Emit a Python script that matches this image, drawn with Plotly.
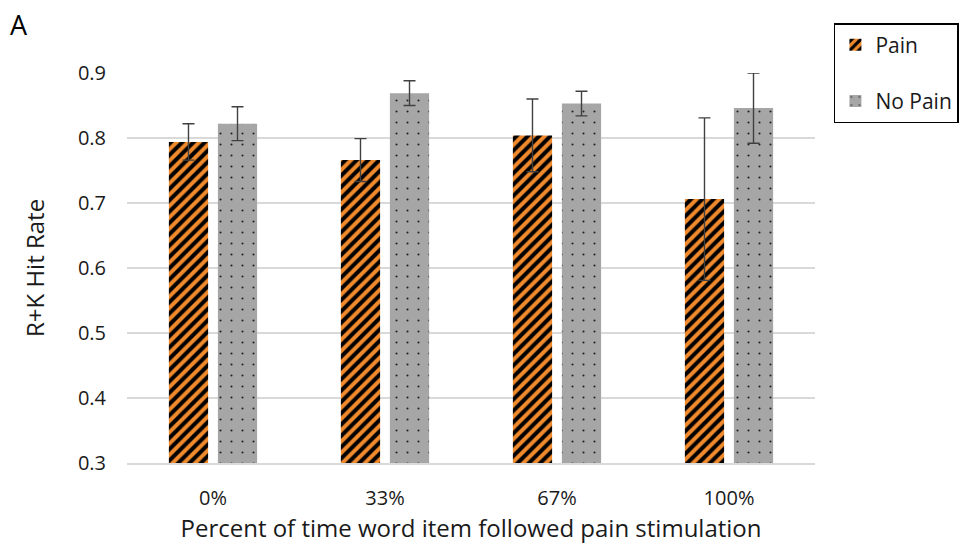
import plotly.graph_objects as go

categories = ["0%", "33%", "67%", "100%"]
pain = [0.794, 0.766, 0.804, 0.706]
pain_err = [0.028, 0.033, 0.056, 0.125]
no_pain = [0.822, 0.869, 0.853, 0.846]
no_pain_err = [0.026, 0.019, 0.019, 0.054]
y_ticks = [0.3, 0.4, 0.5, 0.6, 0.7, 0.8, 0.9]

FONT = "'Open Sans', sans-serif"
ERR = dict(type="data", visible=True, color="#404040", thickness=1.4, width=6)

fig = go.Figure()
fig.add_trace(go.Bar(
    name="Pain", x=categories, y=pain,
    error_y=dict(array=pain_err, **ERR),
    marker=dict(color="#F08A2C", line=dict(width=0),
                pattern=dict(shape="/", fgcolor="black", bgcolor="#F08A2C",
                             fgopacity=1, size=8, solidity=0.5)),
    legendgroup="a", cliponaxis=False,
))
fig.add_trace(go.Bar(
    name="No Pain", x=categories, y=no_pain,
    error_y=dict(array=no_pain_err, **ERR),
    marker=dict(color="#A6A6A6", line=dict(width=0),
                pattern=dict(shape=".", fgcolor="#111111", bgcolor="#A6A6A6",
                             fgopacity=0.9, size=11, solidity=0.03)),
    legendgroup="b", cliponaxis=False,
))

fig.update_layout(
    width=971, height=547,
    margin=dict(l=127, r=154, t=73, b=84),
    paper_bgcolor="white", plot_bgcolor="white",
    barmode="group", bargap=0.43, bargroupgap=0.2,
    font=dict(family=FONT, color="#1a1a1a", size=20),
    legend=dict(
        x=1.0275, y=1.128, xanchor="left", yanchor="top",
        bordercolor="black", borderwidth=1.5,
        font=dict(size=21, color="#1a1a1a"),
        tracegroupgap=26, itemwidth=30,
    ),
    annotations=[dict(text="A", xref="paper", yref="paper",
                      x=-119 / 690, y=(463 - 4) / 390, xanchor="left", yanchor="top",
                      showarrow=False, font=dict(size=27, color="black"))],
)
fig.update_xaxes(
    showgrid=False, showline=True, linecolor="#d9d9d9", linewidth=1.5,
    ticks="", ticklabelstandoff=16,
    tickfont=dict(size=20),
    title=dict(text="Percent of time word item followed pain stimulation",
               font=dict(size=24), standoff=6),
)
fig.update_yaxes(
    range=[0.3, 0.9], tickvals=y_ticks, tickformat=".1f",
    showgrid=True, gridcolor="#d9d9d9", gridwidth=1.5,
    zeroline=False, showline=False, ticks="", ticklabelstandoff=20,
    tickfont=dict(size=20),
    title=dict(text="R+K Hit Rate", font=dict(size=24), standoff=26),
)

fig.write_html("out.html")
